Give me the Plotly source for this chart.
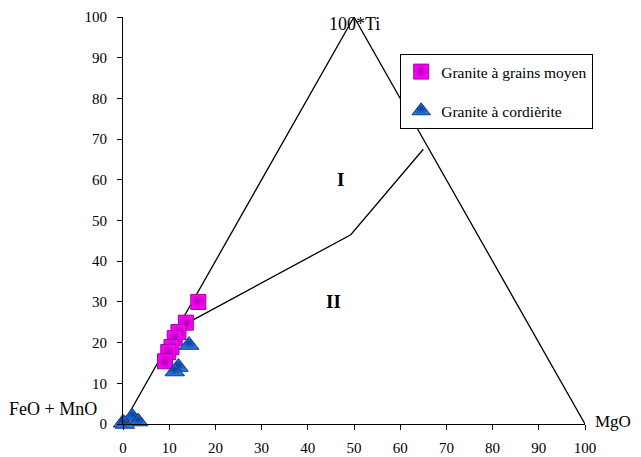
import plotly.graph_objects as go

# Data
tri_x = [0, 50, 100]
tri_y = [0, 100, 0]
div_x = [13.6, 49.3, 65.0]
div_y = [24.6, 46.5, 67.5]

moyen_x = [16.3, 13.6, 12.0, 11.2, 10.5, 9.8, 9.1]
moyen_y = [30.0, 24.9, 22.6, 21.1, 18.9, 17.7, 15.4]

cord_x = [14.3, 12.0, 11.2, 2.0, 3.3, 0.0, 0.4]
cord_y = [19.4, 14.0, 12.9, 1.8, 0.6, 0.3, 0.0]

ticks = [0, 10, 20, 30, 40, 50, 60, 70, 80, 90, 100]

FONT = "Liberation Serif, Times New Roman, serif"

fig = go.Figure()
fig.add_trace(go.Scatter(x=tri_x, y=tri_y, mode="lines",
                         line=dict(color="black", width=1.3),
                         showlegend=False, hoverinfo="skip"))
fig.add_trace(go.Scatter(x=div_x, y=div_y, mode="lines",
                         line=dict(color="black", width=1.3),
                         showlegend=False, hoverinfo="skip"))
fig.add_trace(go.Scatter(x=moyen_x, y=moyen_y, mode="markers",
                         name="Granite à grains moyen", legendgroup="a",
                         marker=dict(symbol="square", size=15, color="#FF00FF",
                                     gradient=dict(type="radial", color="#B000B0"),
                                     line=dict(color="#A000A0", width=1)),
                         cliponaxis=False))
fig.add_trace(go.Scatter(x=cord_x, y=cord_y, mode="markers",
                         name="Granite à cordièrite", legendgroup="b",
                         marker=dict(symbol="triangle-up", size=17, color="#2A7BE0",
                                     gradient=dict(type="radial", color="#0A3D9A"),
                                     line=dict(color="#0B3C8C", width=1)),
                         cliponaxis=False))

axis_common = dict(range=[0, 100], tickvals=ticks, showgrid=False, zeroline=False,
                   showline=True, linecolor="black", linewidth=1,
                   ticks="outside", ticklen=5, tickcolor="black", automargin=False,
                   tickfont=dict(family=FONT, size=15, color="black"))
fig.update_xaxes(**axis_common, ticklabelstandoff=5)
fig.update_yaxes(**axis_common, ticklabelstandoff=7)

ann = [
    dict(x=50, y=98.3, xref="x", yref="y", text="100*Ti", font=dict(size=18)),
    dict(x=47, y=60, xref="x", yref="y", text="<b>I</b>", font=dict(size=19)),
    dict(x=45.5, y=30, xref="x", yref="y", text="<b>II</b>", font=dict(size=19)),
    dict(x=-0.053, y=0.008, xref="paper", yref="paper", text="FeO + MnO",
         xanchor="right", font=dict(size=18)),
    dict(x=1.017, y=-0.022, xref="paper", yref="paper", text="MgO",
         xanchor="left", font=dict(size=17)),
]
for a in ann:
    a["showarrow"] = False
    a["font"]["family"] = FONT
    a["font"]["color"] = "black"
fig.update_layout(annotations=ann)

fig.update_layout(
    width=641, height=457,
    margin=dict(l=115, r=64, t=9, b=41),
    plot_bgcolor="white", paper_bgcolor="white",
    font=dict(family=FONT, color="black"),
    legend=dict(x=0.6, y=0.909, xanchor="left", yanchor="top",
                bordercolor="black", borderwidth=1, bgcolor="white",
                font=dict(family=FONT, size=15.5, color="black"),
                tracegroupgap=16, itemwidth=30),
)

fig.write_html("out.html")
